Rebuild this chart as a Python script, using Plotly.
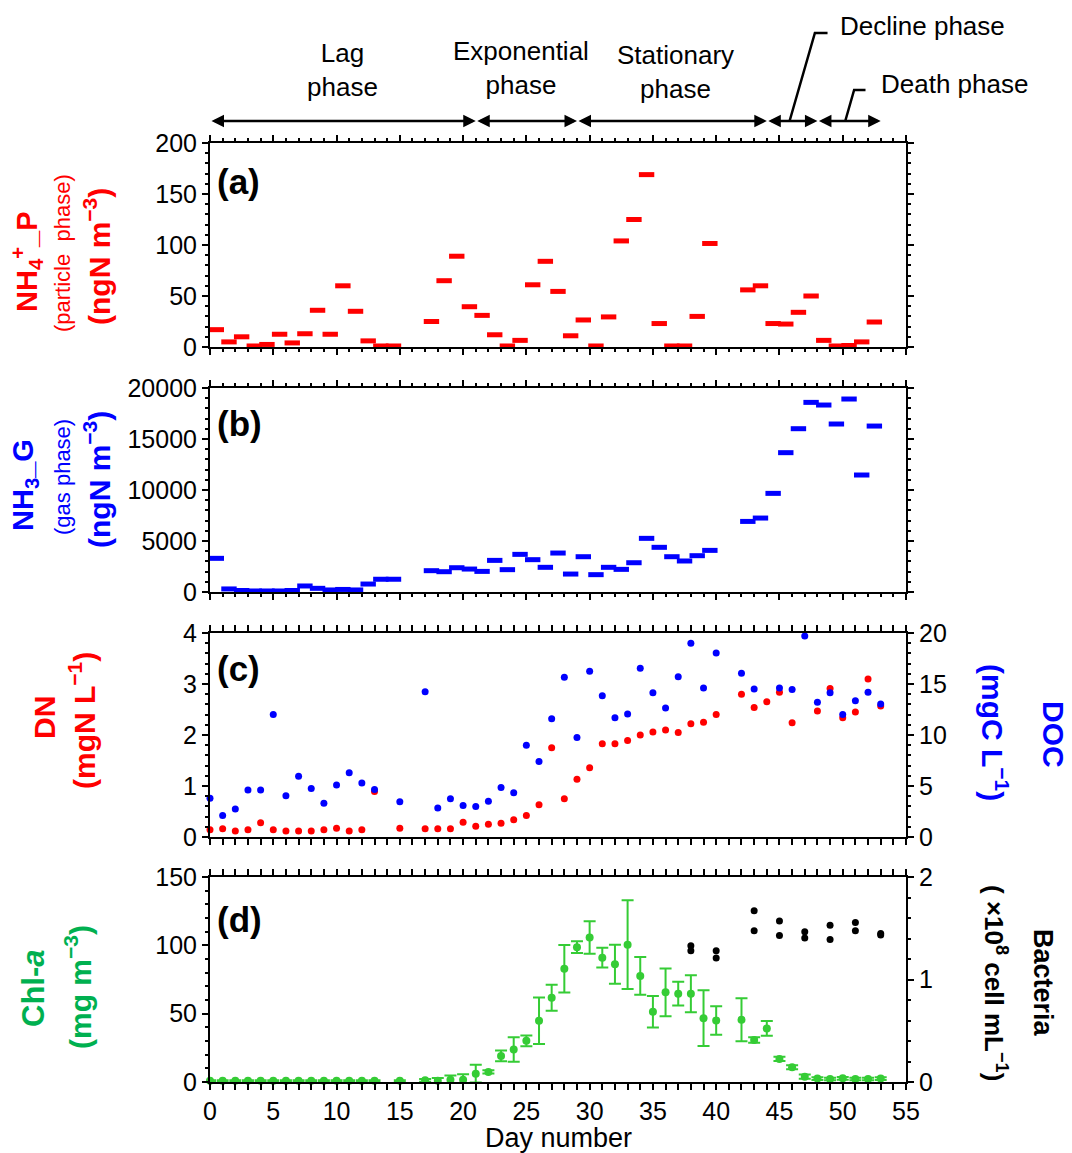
import plotly.graph_objects as go

FONT = "Liberation Sans, Arial, sans-serif"
RED = "#ff0000"
BLUE = "#0000ff"
GREEN = "#35cc35"
LGREEN = "#00b050"
BLACK = "#000000"

# ---------------- data ----------------
# (a) NH4+ particle phase, sampling intervals (centre day), ngN m-3
nh4_day = [0.5, 1.5, 2.5, 3.5, 4.5, 5.5, 6.5, 7.5, 8.5, 9.5, 10.5, 11.5, 12.5, 13.5, 14.5,
           17.5, 18.5, 19.5, 20.5, 21.5, 22.5, 23.5, 24.5, 25.5, 26.5, 27.5, 28.5, 29.5, 30.5,
           31.5, 32.5, 33.5, 34.5, 35.5, 36.5, 37.5, 38.5, 39.5,
           42.5, 43.5, 44.5, 45.5, 46.5, 47.5, 48.5, 49.5, 50.5, 51.5, 52.5]
nh4_val = [17, 5, 10, 1, 2.5, 12.5, 4, 13, 36, 12.5, 60, 35, 6, 1, 1,
           25, 65, 89, 39.5, 31, 12, 1, 6.5, 61, 84, 54.5, 11, 26.5, 1,
           29.5, 104, 125, 169, 23, 1, 1, 30, 101.5,
           56, 60, 23, 22.5, 34, 50, 6.5, 1, 1.5, 5, 24.5]

# (b) NH3 gas phase, ngN m-3
nh3_day = nh4_day
nh3_val = [3300, 300, 150, 100, 100, 100, 150, 590, 360, 200, 250, 200, 780, 1250, 1250,
           2090, 1990, 2380, 2250, 2020, 3100, 2190, 3690, 3170, 2420, 3820, 1760, 3460, 1700,
           2420, 2220, 2870, 5260, 4380, 3460, 3040, 3560, 4080,
           6920, 7250, 9670, 13660, 16010, 18590, 18330, 16470, 18920, 11470, 16270]

# (c) DN (mgN L-1) and DOC (mgC L-1)
dn_day = [0, 1, 2, 3, 4, 5, 6, 7, 8, 9, 10, 11, 12, 13, 15,
          17, 18, 19, 20, 21, 22, 23, 24, 25, 26, 27, 28, 29, 30, 31, 32, 33, 34, 35, 36, 37, 38, 39, 40,
          42, 43, 44, 45, 46, 48, 49, 50, 51, 52, 53]
dn_val = [0.14, 0.16, 0.12, 0.14, 0.28, 0.14, 0.12, 0.12, 0.12, 0.14, 0.17, 0.12, 0.14, 0.89, 0.17,
          0.16, 0.16, 0.16, 0.29, 0.21, 0.25, 0.27, 0.34, 0.42, 0.63, 1.75, 0.75, 1.13, 1.36, 1.83, 1.83,
          1.89, 2.0, 2.06, 2.1, 2.05, 2.22, 2.25, 2.4,
          2.8, 2.54, 2.65, 2.84, 2.24, 2.47, 2.91, 2.34, 2.45, 3.1, 2.57]
doc_day = [0, 1, 2, 3, 4, 5, 6, 7, 8, 9, 10, 11, 12, 13, 15,
           17, 18, 19, 20, 21, 22, 23, 24, 25, 26, 27, 28, 29, 30, 31, 32, 33, 34, 35, 36, 37, 38, 39, 40,
           42, 43, 45, 46, 47, 48, 49, 50, 51, 52, 53]
doc_val = [3.8, 2.1, 2.75, 4.6, 4.6, 12.0, 4.05, 5.95, 4.75, 3.3, 5.1, 6.3, 5.3, 4.65, 3.45,
           14.25, 2.85, 3.75, 3.1, 3.0, 3.5, 4.85, 4.35, 9.0, 7.4, 11.6, 15.65, 9.75, 16.25, 13.85, 11.7,
           12.05, 16.55, 14.15, 12.65, 15.7, 19.0, 14.6, 18.05,
           16.05, 14.5, 14.6, 14.45, 19.7, 13.2, 14.15, 12.0, 13.35, 14.2, 13.05]

# (d) Chl-a (mg m-3) with error, bacteria (x10^8 cell mL-1)
chl_day = [0, 1, 2, 3, 4, 5, 6, 7, 8, 9, 10, 11, 12, 13, 15,
           17, 18, 19, 20, 21, 22, 23, 24, 25, 26, 27, 28, 29, 30, 31, 32, 33, 34, 35, 36, 37, 38, 39, 40,
           42, 43, 44, 45, 46, 47, 48, 49, 50, 51, 52, 53]
chl_val = [1, 1, 1, 1, 1, 1, 1, 1, 1, 1, 1, 1, 1, 1, 1,
           1.2, 1.0, 1.7, 1.7, 6.1, 7.4, 19.1, 23.8, 30.1, 44.8, 61.6, 82.9, 98.6, 105.7, 91.0, 86.1,
           100.5, 77.6, 51.4, 65.6, 64.6, 64.6, 46.7, 45.0,
           45.5, 30.8, 39.2, 16.9, 10.8, 3.9, 2.5, 2.2, 2.7, 2.2, 2.2, 2.5]
chl_err = [0.3, 0.3, 0.3, 0.3, 0.3, 0.3, 0.3, 0.3, 0.3, 0.3, 0.3, 0.3, 0.3, 0.3, 0.3,
           1, 2, 3, 4, 6.5, 1.2, 4, 9, 4, 17, 9.5, 17.4, 4.3, 11.9, 7.2, 14.3,
           32.4, 13.8, 11.5, 17.4, 8.7, 13.5, 20.4, 10.5,
           15.7, 2, 5.4, 1.5, 1.5, 1.5, 1, 1, 1, 1, 1, 1]
bac_day = [38, 38, 40, 40, 43, 43, 45, 45, 47, 47, 49, 49, 51, 51, 53, 53]
bac_val = [1.33, 1.28, 1.28, 1.21, 1.67, 1.475, 1.57, 1.43, 1.465, 1.405, 1.53, 1.39, 1.555, 1.475, 1.45, 1.435]

# growth phases (day span)
phase_start = [0, 21, 29, 44, 48]
phase_end = [21, 29, 44, 48, 53]
phase_label = ["Lag<br>phase", "Exponential<br>phase", "Stationary<br>phase", "Decline phase", "Death phase"]

# ---------------- layout geometry ----------------
W, H = 1072, 1153
ML, MR, MT, MB = 210, 166, 143, 71
PW = W - ML - MR
PH = H - MT - MB


def fx(px):
    return (px - ML) / PW


def fy(py):
    return (H - MB - py) / PH


def dom(top, bot):
    return [fy(bot), fy(top)]


fig = go.Figure()

fig.add_trace(go.Scatter(x=nh4_day, y=nh4_val, mode="markers", xaxis="x", yaxis="y", cliponaxis=False,
                         marker=dict(symbol="line-ew", size=11, color=RED, line=dict(color=RED, width=5))))
fig.add_trace(go.Scatter(x=nh3_day, y=nh3_val, mode="markers", xaxis="x2", yaxis="y2", cliponaxis=False,
                         marker=dict(symbol="line-ew", size=11, color=BLUE, line=dict(color=BLUE, width=5))))
fig.add_trace(go.Scatter(x=dn_day, y=dn_val, mode="markers", xaxis="x3", yaxis="y3", cliponaxis=False,
                         marker=dict(size=7, color=RED)))
fig.add_trace(go.Scatter(x=doc_day, y=doc_val, mode="markers", xaxis="x3", yaxis="y4", cliponaxis=False,
                         marker=dict(size=7, color=BLUE)))
fig.add_trace(go.Scatter(x=chl_day, y=chl_val, mode="markers", xaxis="x4", yaxis="y5", cliponaxis=False,
                         marker=dict(size=8, color=GREEN),
                         error_y=dict(type="data", array=chl_err, color=GREEN, thickness=2, width=6)))
fig.add_trace(go.Scatter(x=bac_day, y=bac_val, mode="markers", xaxis="x4", yaxis="y6", cliponaxis=False,
                         marker=dict(size=7, color=BLACK)))

tickfont = dict(family=FONT, size=25, color=BLACK)


def xax(anchor, labels):
    return dict(domain=[0, 1], anchor=anchor, range=[0, 55], tick0=0, dtick=5, ticks="outside", ticklen=6,
                tickwidth=2, tickcolor=BLACK, showline=True, linewidth=2, linecolor=BLACK, mirror="allticks",
                showgrid=False, zeroline=False, showticklabels=labels, tickfont=tickfont,
                minor=dict(dtick=1, ticks="outside", ticklen=3, tickwidth=1.5, tickcolor=BLACK, showgrid=False))


def yax(anchor, rng, dt, mdt, domain=None, mirror="allticks", side="left", overlaying=None):
    d = dict(anchor=anchor, range=rng, tick0=0, dtick=dt, ticks="outside", ticklen=6, tickwidth=2,
             tickcolor=BLACK, showline=True, linewidth=2, linecolor=BLACK, mirror=mirror, showgrid=False,
             zeroline=False, tickfont=tickfont, tickformat="d", side=side,
             minor=dict(dtick=mdt, ticks="outside", ticklen=3, tickwidth=1.5, tickcolor=BLACK, showgrid=False))
    if domain is not None:
        d["domain"] = domain
    if overlaying is not None:
        d["overlaying"] = overlaying
    return d


def ann(text, px, py, size, color, bold=False, angle=0, xanchor="center", yanchor="middle"):
    if bold:
        text = "<b>" + text + "</b>"
    return dict(text=text, x=fx(px), y=fy(py), xref="paper", yref="paper", showarrow=False,
                textangle=angle, xanchor=xanchor, yanchor=yanchor,
                font=dict(family=FONT, size=size, color=color))


annotations = []
# panel letters
for lab, py in [("(a)", 181), ("(b)", 424), ("(c)", 668), ("(d)", 919)]:
    annotations.append(ann(lab, 215, py, 35, BLACK, bold=True, xanchor="left"))

# left axis titles
annotations += [
    ann("NH<sub>4</sub><sup>+</sup>_P", 27, 262, 29, RED, bold=True, angle=-90),
    ann("(particle  phase)", 62, 253, 22, RED, angle=-90),
    ann("(ngN m<sup>−3</sup>)", 97, 257, 30, RED, bold=True, angle=-90),
    ann("NH<sub>3</sub>_G", 25, 485, 29, BLUE, bold=True, angle=-90),
    ann("(gas phase)", 62, 477, 22, BLUE, angle=-90),
    ann("(ngN m<sup>−3</sup>)", 97, 480, 30, BLUE, bold=True, angle=-90),
    ann("DN", 45, 718, 30, RED, bold=True, angle=-90),
    ann("(mgN L<sup>−1</sup>)", 82, 721, 30, RED, bold=True, angle=-90),
    ann("Chl-<i>a</i>", 33, 988, 31, LGREEN, bold=True, angle=-90),
    ann("(mg m<sup>−3</sup>)", 78, 987, 30, LGREEN, bold=True, angle=-90),
    # right axis titles
    ann("(mgC L<sup>−1</sup>)", 995, 733, 30, BLUE, bold=True, angle=90),
    ann("DOC", 1054, 734, 30, BLUE, bold=True, angle=90),
    ann("( ×10<sup>8</sup> cell mL<sup>−1</sup>)", 996, 983, 26, BLACK, bold=True, angle=90),
    ann("Bacteria", 1043, 983, 27, BLACK, bold=True, angle=90),
    # x title
    ann("Day number", 558, 1138, 27, BLACK),
]

# phase arrows (double headed)
arrow_py = 121
for s, e in zip(phase_start, phase_end):
    annotations.append(dict(x=e, y=fy(arrow_py), xref="x", yref="paper", ax=s, ay=0, axref="x",
                            ayref="pixel", showarrow=True, arrowside="end+start", arrowhead=2,
                            arrowsize=1, arrowwidth=2.5, arrowcolor=BLACK, text=""))

# phase labels
pfont = dict(family=FONT, size=26, color=BLACK)
annotations += [
    dict(text=phase_label[0], x=(phase_start[0] + phase_end[0]) / 2, y=fy(70), xref="x", yref="paper",
         showarrow=False, xanchor="center", yanchor="middle", font=pfont),
    dict(text=phase_label[1], x=(phase_start[1] + phase_end[1]) / 2 - 0.4, y=fy(68), xref="x", yref="paper",
         showarrow=False, xanchor="center", yanchor="middle", font=pfont),
    dict(text=phase_label[2], x=(phase_start[2] + phase_end[2]) / 2 + 0.3, y=fy(72), xref="x", yref="paper",
         showarrow=False, xanchor="center", yanchor="middle", font=pfont),
    dict(text=phase_label[3], x=49.6, y=fy(26), xref="x", yref="paper",
         showarrow=False, xanchor="left", yanchor="middle", font=pfont),
    dict(text=phase_label[4], x=52.9, y=fy(84), xref="x", yref="paper",
         showarrow=False, xanchor="left", yanchor="middle", font=pfont),
]

# leader lines for decline/death labels
decline_leader = [(45.8, 121), (47.8, 33), (48.8, 33)]
death_leader = [(50.2, 121), (50.9, 90), (51.8, 90)]
shapes = []
for pts in (decline_leader, death_leader):
    path = "M " + " L ".join(f"{d},{fy(p)}" for d, p in pts)
    shapes.append(dict(type="path", xref="x", yref="paper", path=path,
                       line=dict(color=BLACK, width=2.5)))

fig.update_layout(
    width=W, height=H,
    margin=dict(l=ML, r=MR, t=MT, b=MB, pad=0),
    paper_bgcolor="white", plot_bgcolor="white",
    showlegend=False,
    font=dict(family=FONT, color=BLACK),
    xaxis=xax("y", False),
    xaxis2=xax("y2", False),
    xaxis3=xax("y3", False),
    xaxis4=xax("y5", True),
    yaxis=yax("x", [0, 200], 50, 10, domain=dom(143, 347)),
    yaxis2=yax("x2", [0, 20000], 5000, 1000, domain=dom(388, 592)),
    yaxis3=yax("x3", [0, 4], 1, 0.2, domain=dom(633, 837), mirror=True),
    yaxis4=yax("x3", [0, 20], 5, 1, mirror=False, side="right", overlaying="y3"),
    yaxis5=yax("x4", [0, 150], 50, 10, domain=dom(877, 1082), mirror=True),
    yaxis6=yax("x4", [0, 2], 1, 0.2, mirror=False, side="right", overlaying="y5"),
    annotations=annotations,
    shapes=shapes,
)

fig.write_html("out.html")
